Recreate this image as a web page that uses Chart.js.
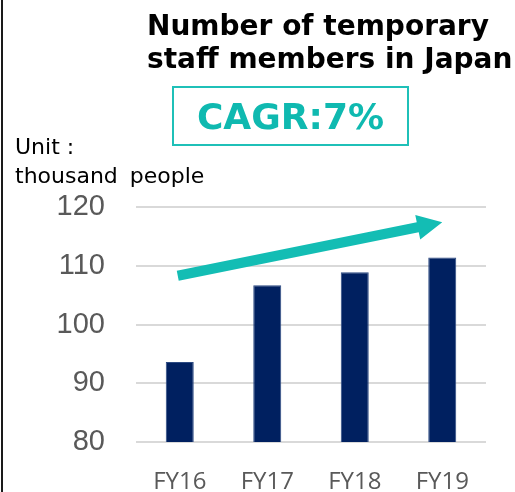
<!DOCTYPE html>
<html>
<head>
<meta charset="utf-8">
<script src="https://cdn.jsdelivr.net/npm/chart.js@4.4.1/dist/chart.umd.min.js"></script>
<style>
  html, body { margin: 0; padding: 0; background: #ffffff; }
  #wrap { position: relative; width: 515px; height: 492px; overflow: hidden; background: #fff; }
  #c { position: absolute; left: 0; top: 0; }
  #border { position: absolute; left: 1px; top: 0; width: 2px; height: 492px; background: #1a1a1a; }
  #title { position: absolute; left: 147px; top: 9px; font-family: "DejaVu Sans", sans-serif; font-weight: bold; font-size: 28px; line-height: 33px; color: #000; white-space: nowrap; }
  #cagr { position: absolute; left: 172px; top: 86px; width: 237px; height: 60px; box-sizing: border-box; border: 2px solid #1fc0b8; display: flex; align-items: center; justify-content: center; font-family: "DejaVu Sans", sans-serif; font-weight: bold; font-size: 36px; color: #0fb9b0; }
  #unit { position: absolute; left: 15px; top: 132px; font-family: "DejaVu Sans", sans-serif; font-size: 22px; line-height: 29px; color: #000; white-space: nowrap; }
  #unit .l2 { word-spacing: 5px; }
</style>
</head>
<body>
<div id="wrap">
  <canvas id="c" width="515" height="492"></canvas>
  <div id="border"></div>
  <div id="title">Number of temporary<br>staff members in Japan</div>
  <div id="cagr">CAGR:7%</div>
  <div id="unit">Unit :<br><span class="l2">thousand people</span></div>
</div>
<script>
// ---- data ----
const categories = ['FY16', 'FY17', 'FY18', 'FY19'];
const staffValues = [93.6, 106.7, 108.9, 111.4];
const yTickValues = [80, 90, 100, 110, 120];
const arrowFrom = ['FY16', 108.3];
const arrowTo = ['FY19', 117.4];

const teal = '#13bdb4';

const arrowPlugin = {
  id: 'trendArrow',
  afterDatasetsDraw(chart) {
    const xs = chart.scales.x, ys = chart.scales.y, ctx = chart.ctx;
    const x0 = xs.getPixelForValue(categories.indexOf(arrowFrom[0])) - 2;
    const y0 = ys.getPixelForValue(arrowFrom[1]);
    const x1 = xs.getPixelForValue(categories.indexOf(arrowTo[0]));
    const y1 = ys.getPixelForValue(arrowTo[1]);
    const ang = Math.atan2(y1 - y0, x1 - x0);
    const headLen = 25, headHalf = 12.5, shaftHalf = 5;
    const len = Math.hypot(x1 - x0, y1 - y0);
    ctx.save();
    ctx.translate(x0, y0);
    ctx.rotate(ang);
    ctx.fillStyle = teal;
    ctx.beginPath();
    ctx.moveTo(0, -shaftHalf);
    ctx.lineTo(len - headLen, -shaftHalf);
    ctx.lineTo(len - headLen, -headHalf);
    ctx.lineTo(len, 0);
    ctx.lineTo(len - headLen, headHalf);
    ctx.lineTo(len - headLen, shaftHalf);
    ctx.lineTo(0, shaftHalf);
    ctx.closePath();
    ctx.fill();
    ctx.restore();
  }
};

new Chart(document.getElementById('c'), {
  type: 'bar',
  data: {
    labels: categories,
    datasets: [{
      data: staffValues,
      backgroundColor: '#002060',
      borderColor: '#2c4a82',
      borderWidth: 1,
      categoryPercentage: 1.0,
      barPercentage: 0.32
    }]
  },
  options: {
    responsive: false,
    animation: false,
    devicePixelRatio: 1,
    layout: { padding: { top: 207, right: 29, left: 0, bottom: 0 } },
    plugins: { legend: { display: false }, tooltip: { enabled: false }, title: { display: false } },
    scales: {
      x: {
        grid: { display: false, drawTicks: false },
        border: { display: false },
        ticks: { color: '#595959', font: { family: 'Open Sans', size: 24 }, padding: 26 },
        afterFit(scale) { scale.height = 50; }
      },
      y: {
        min: yTickValues[0],
        max: yTickValues[yTickValues.length - 1],
        afterBuildTicks(scale) { scale.ticks = yTickValues.map(v => ({ value: v })); },
        grid: { color: '#d9d9d9', lineWidth: 2, drawTicks: false },
        border: { display: false },
        ticks: { color: '#595959', font: { family: 'Liberation Sans', size: 29 }, padding: 31 },
        afterFit(scale) { scale.width = 136; }
      }
    }
  },
  plugins: [arrowPlugin]
});
</script>
</body>
</html>
